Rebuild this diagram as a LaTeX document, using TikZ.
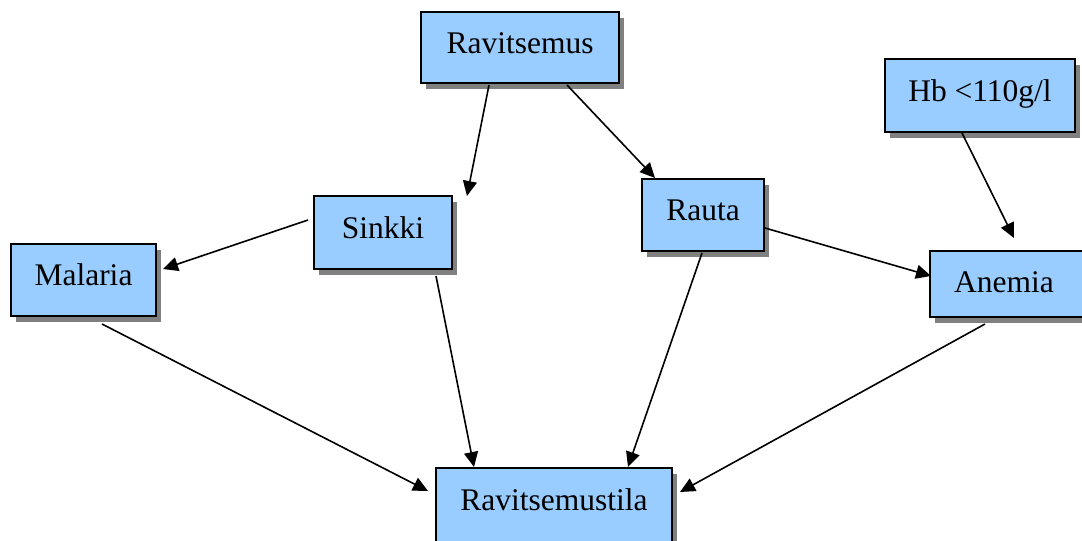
\documentclass[tikz,border=0pt]{standalone}
\usepackage{fontspec}
\setmainfont{Liberation Serif}
\usetikzlibrary{arrows.meta,shadows}
\definecolor{boxblue}{RGB}{153,204,255}
\definecolor{shadowgray}{RGB}{128,128,128}
\tikzset{
  box/.style={draw=black, line width=1.9pt, fill=boxblue, inner sep=0pt,
    font=\fontsize{31.5}{36}\selectfont, text height=22pt, text depth=11pt,
    drop shadow={shadow xshift=5pt, shadow yshift=-5.5pt, fill=shadowgray, opacity=1}},
  conn/.style={line width=1.6pt, -{Triangle[length=15pt,width=14pt]}}
}
\begin{document}
\begin{tikzpicture}[x=1pt,y=-1pt]
\useasboundingbox (0,0) rectangle (1082,541);
% boxes
\node[box, minimum width=198pt, minimum height=71pt] (rav) at (520,47.5) {Ravitsemus};
\node[box, minimum width=190pt, minimum height=73pt] (hb) at (980,95.5) {Hb <110g/l};
\node[box, minimum width=138pt, minimum height=73pt] (sin) at (383,232.5) {Sinkki};
\node[box, minimum width=122pt, minimum height=72pt] (rau) at (703,215) {Rauta};
\node[box, minimum width=145pt, minimum height=72pt] (mal) at (83.5,280) {Malaria};
\node[box, minimum width=158pt, minimum height=66pt, text height=25pt, text depth=9pt] (ane) at (1009,284) {Anemia\hspace*{10pt}};
\node[box, minimum width=236pt, minimum height=74pt] (rst) at (554,505) {Ravitsemustila};
% connector end points
\coordinate (a1s) at (489,85);  \coordinate (a1e) at (467,196);
\coordinate (a2s) at (567,85);  \coordinate (a2e) at (655,178);
\coordinate (a3s) at (962,133); \coordinate (a3e) at (1014,238);
\coordinate (a4s) at (308,220); \coordinate (a4e) at (163,269);
\coordinate (a5s) at (765,228); \coordinate (a5e) at (931,276);
\coordinate (a6s) at (102,324); \coordinate (a6e) at (428,491);
\coordinate (a7s) at (436,276); \coordinate (a7e) at (474,467);
\coordinate (a8s) at (702,253); \coordinate (a8e) at (628,467);
\coordinate (a9s) at (985,324); \coordinate (a9e) at (680,492);
% connectors
\draw[conn] (a1s) -- (a1e);
\draw[conn] (a2s) -- (a2e);
\draw[conn] (a3s) -- (a3e);
\draw[conn] (a4s) -- (a4e);
\draw[conn] (a5s) -- (a5e);
\draw[conn] (a6s) -- (a6e);
\draw[conn] (a7s) -- (a7e);
\draw[conn] (a8s) -- (a8e);
\draw[conn] (a9s) -- (a9e);
\end{tikzpicture}
\end{document}
